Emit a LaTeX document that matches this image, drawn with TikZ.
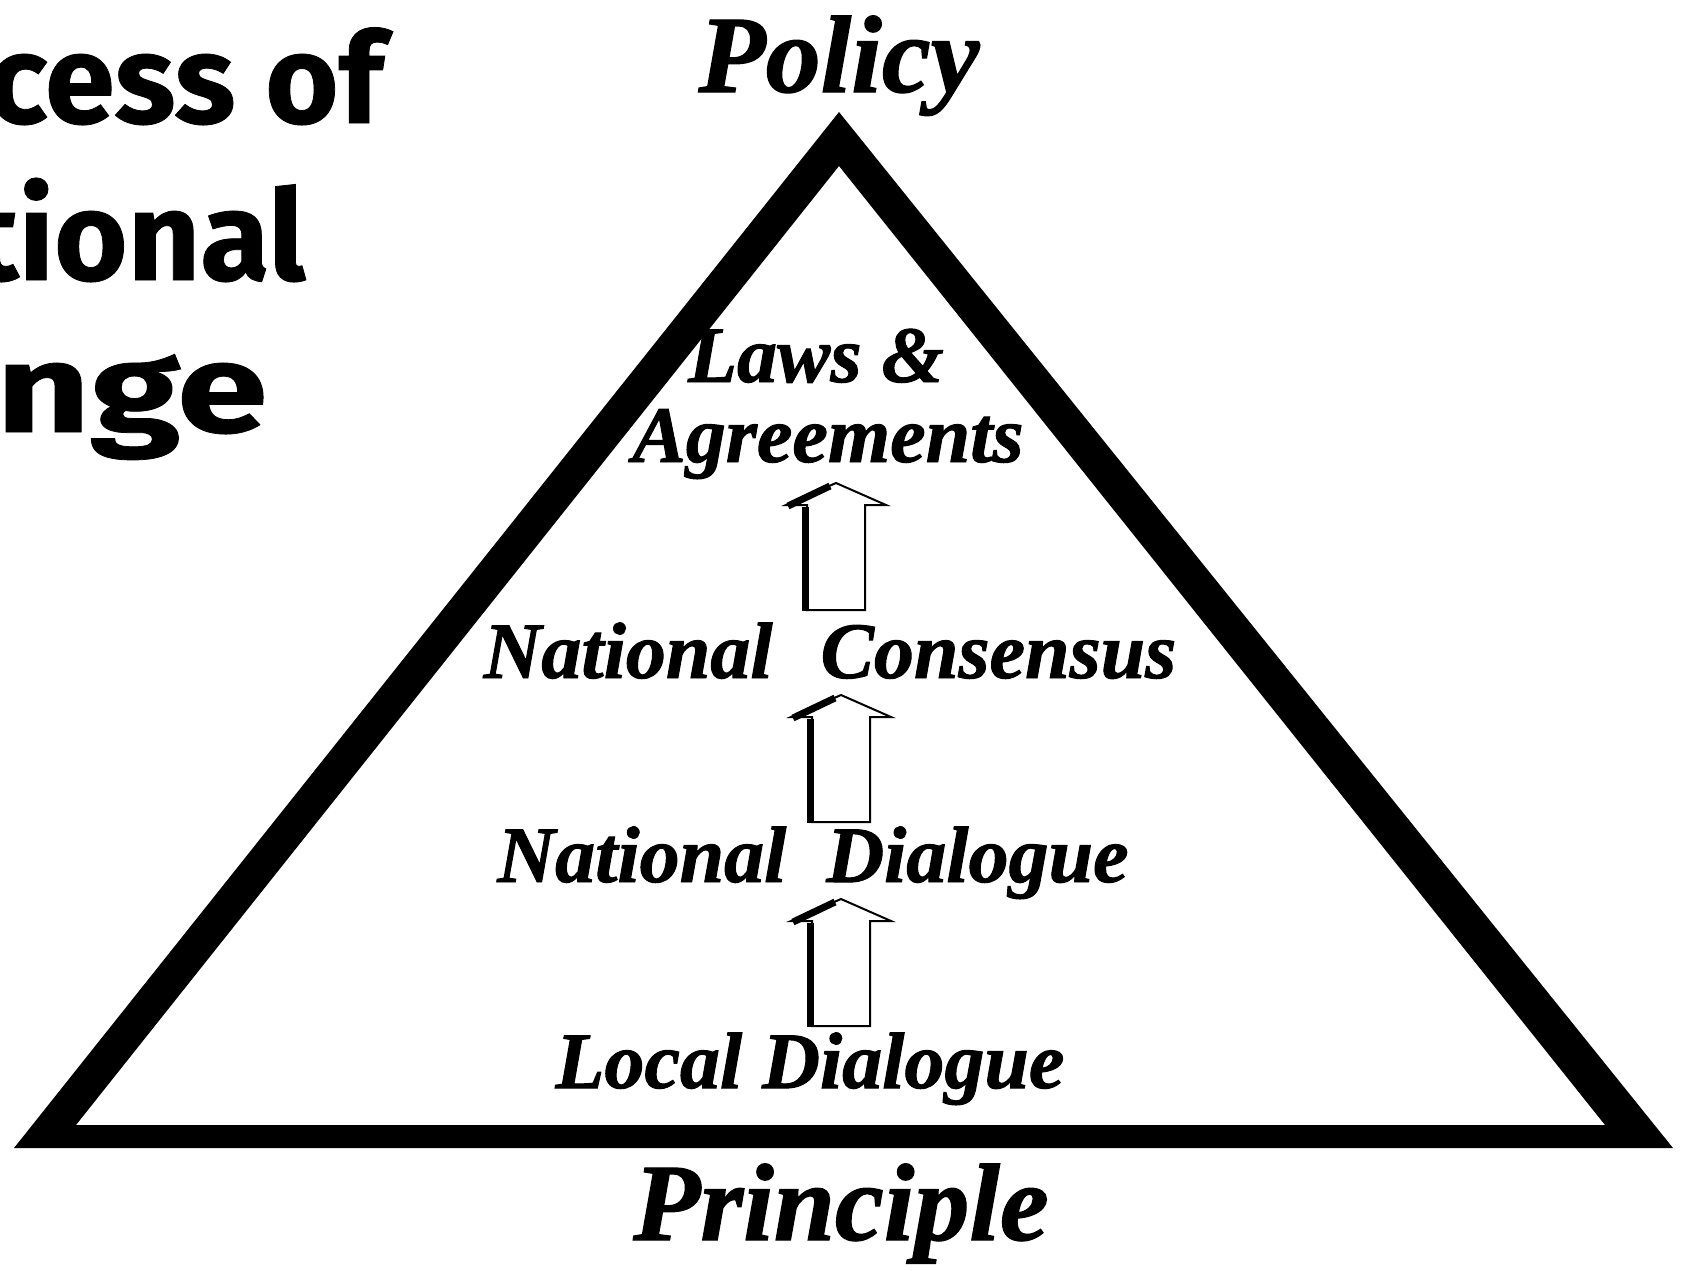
\documentclass[tikz,border=0pt]{standalone}
\usepackage{fontspec}
\setmainfont{Liberation Serif}
\newfontfamily\heavy{Liberation Serif Bold Italic}[FakeBold=1.2]
\newfontfamily\titlefont{Fira Sans Bold}[FakeBold=0.6]
\begin{document}
\begin{tikzpicture}[x=0.5pt,y=-0.5pt,
  lbl/.style={inner sep=0pt, anchor=base, font=\fontsize{40pt}{40pt}\selectfont\heavy},
  bigl/.style={inner sep=0pt, anchor=base, font=\fontsize{55pt}{55pt}\selectfont\heavy},
  ttl/.style={inner sep=0pt, anchor=base east, font=\fontsize{63pt}{63pt}\selectfont\titlefont},
  thinedge/.style={draw=black, line width=1pt, fill=white, line join=miter},
  thickedge/.style={draw=black, line width=3.5pt, line cap=butt},
  blockup/.pic={
    \draw[thinedge] (-29,0) -- (29,0) -- (29,-105) -- (50,-105) -- (0,-127) -- (-50,-105) -- (-29,-105) -- cycle;
    \draw[thickedge] (-31,1) -- (-31,-103);
    \draw[thickedge] (-48,-104) -- (-6,-124);
  }]
\useasboundingbox (0,0) rectangle (1681,1270);
\fill[white] (0,0) rectangle (1681,1270);
\clip (0,0) rectangle (1681,1270);

% pyramid
\coordinate (apex) at (839,112);
\coordinate (bl) at (14,1148);
\coordinate (br) at (1673,1148);
\fill[black, even odd rule] (apex) -- (br) -- (bl) -- cycle
  (839,166) -- (1605,1125) -- (76,1125) -- cycle;

% title (cut at the left edge)
\node[ttl] (t1) at (384,123) {Process of};
\node[ttl] (t2) at (306,280) {National};
\node[ttl, xscale=1.3] (t3) at (268,432) {Change};

% labels
\node[bigl] (policy) at (839,92) {Policy};
\node[bigl] (principle) at (841,1240) {Principle};
\node[lbl] (laws) at (816,382) {Laws \&};
\node[lbl] (agree) at (828,462) {Agreements};
\node[lbl] (cons) at (830,678) {National\hspace{0.6em}Consensus};
\node[lbl] (dial) at (813,882) {National\hspace{0.5em}Dialogue};
\node[lbl] (local) at (810,1088) {Local Dialogue};

% block arrows
\coordinate (a1) at (836,610);
\coordinate (a2) at (841,822);
\coordinate (a3) at (841,1026);
\pic at (a1) {blockup};
\pic at (a2) {blockup};
\pic at (a3) {blockup};
\end{tikzpicture}
\end{document}
